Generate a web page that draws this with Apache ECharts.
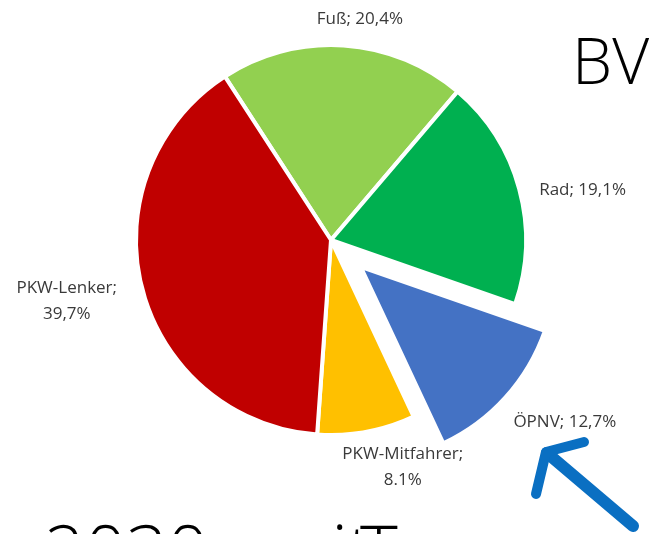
<!DOCTYPE html>
<html>
<head>
<meta charset="utf-8">
<script src="https://cdn.jsdelivr.net/npm/echarts@6/dist/echarts.min.js"></script>
<style>
html,body{margin:0;padding:0;background:#fff;}
#chart{width:649px;height:534px;}
</style>
</head>
<body>
<div id="chart"></div>
<script>
// Data (clockwise from the Fuß slice)
const categories = ['Fuß', 'Rad', 'ÖPNV', 'PKW-Mitfahrer', 'PKW-Lenker'];
const values = [20.4, 19.1, 12.7, 8.1, 39.7];
const labelTexts = ['Fuß; 20,4%', 'Rad; 19,1%', 'ÖPNV; 12,7%', 'PKW-Mitfahrer;\n8.1%', 'PKW-Lenker;\n39,7%'];
const colors = ['#92D050', '#00B050', '#4472C4', '#FFC000', '#C00000'];
const explodedCategory = 'ÖPNV';

// label nudges from the library's default outside anchor (layout only)
const labelShift = [[10, -8], [41, 6], [41, 13], [28, 18], [-53, 8]];

const chart = echarts.init(document.getElementById('chart'), null, {renderer: 'canvas'});

const data = categories.map((c, i) => ({
  name: c,
  value: values[i],
  selected: c === explodedCategory,
  itemStyle: {color: colors[i]},
  label: {formatter: labelTexts[i]}
}));

chart.setOption({
  animation: false,
  backgroundColor: '#ffffff',
  series: [{
    type: 'pie',
    center: [331, 240],
    radius: 195,
    startAngle: 123,
    clockwise: true,
    selectedMode: 'single',
    selectedOffset: 40,
    avoidLabelOverlap: false,
    itemStyle: {borderColor: '#ffffff', borderWidth: 4},
    label: {
      show: true,
      position: 'outside',
      fontFamily: 'Open Sans',
      fontSize: 17,
      color: '#3a3a3a',
      lineHeight: 26
    },
    labelLine: {show: false, length: 18, length2: 0},
    labelLayout: function (p) {
      const s = labelShift[p.dataIndex];
      return {dx: s[0], dy: s[1], align: 'center', verticalAlign: 'middle'};
    },
    emphasis: {disabled: true},
    data: data
  }],
  graphic: [
    {
      type: 'text', left: 572, top: 34,
      style: {text: 'BV', fontFamily: 'Open Sans', fontWeight: 300, fontSize: 64, fill: '#000'}
    },
    {
      type: 'text', left: 44, top: 520,
      style: {text: '2030', fontFamily: 'Open Sans', fontWeight: 300, fontSize: 72, fill: '#000'}
    },
    {
      type: 'text', left: 268, top: 520,
      style: {text: 'mit', fontFamily: 'Open Sans', fontWeight: 300, fontSize: 72, fill: '#000'}
    },
    {
      type: 'text', left: 360, top: 520,
      style: {text: 'T', fontFamily: 'Open Sans', fontWeight: 300, fontSize: 72, fill: '#000'}
    },
    {
      type: 'polyline',
      shape: {points: [[633, 526], [547, 453]]},
      style: {stroke: '#0A6FC2', lineWidth: 12, lineCap: 'round'}
    },
    {
      type: 'polyline',
      shape: {points: [[584, 442], [546, 452], [536, 494]]},
      style: {stroke: '#0A6FC2', lineWidth: 10, lineCap: 'round', lineJoin: 'round', fill: null}
    }
  ]
});
</script>
</body>
</html>
